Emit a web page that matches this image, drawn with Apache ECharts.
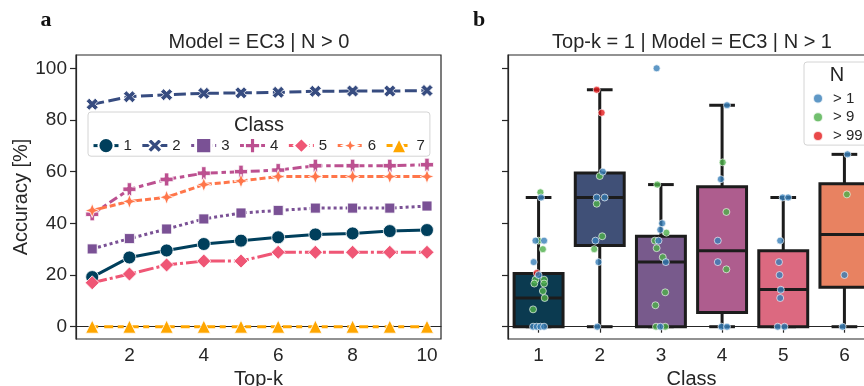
<!DOCTYPE html>
<html>
<head>
<meta charset="utf-8">
<script src="https://cdn.jsdelivr.net/npm/echarts@6/dist/echarts.min.js"></script>
<style>
  html, body { margin: 0; padding: 0; background: #fff; }
  #chart { width: 864px; height: 386px; }
</style>
</head>
<body>
<div id="chart"></div>
<script>
// panel a: accuracy per Top-k, one line per class
const topK = [1, 2, 3, 4, 5, 6, 7, 8, 9, 10]
const classNames = ['1', '2', '3', '4', '5', '6', '7']
const acc1 = [19.2, 26.8, 29.5, 32.0, 33.3, 34.6, 35.7, 36.1, 37.0, 37.4]
const acc2 = [86.1, 89.0, 89.8, 90.3, 90.5, 90.7, 91.1, 91.2, 91.2, 91.4]
const acc3 = [30.1, 34.1, 37.8, 41.7, 44.0, 45.0, 45.9, 45.9, 45.9, 46.7]
const acc4 = [43.5, 53.2, 57.0, 59.4, 60.0, 60.6, 62.3, 62.3, 62.3, 62.7]
const acc5 = [17.0, 20.4, 23.9, 25.4, 25.4, 28.8, 28.8, 28.8, 28.8, 28.8]
const acc6 = [45.0, 48.5, 50.1, 55.0, 56.4, 58.1, 58.1, 58.1, 58.1, 58.1]
const acc7 = [0, 0, 0, 0, 0, 0, 0, 0, 0, 0]
const yTicks = [0, 20, 40, 60, 80, 100]
const xTicks = [2, 4, 6, 8, 10]

// panel b: box stats per class [low, q1, median, q3, high]
const boxClasses = ['1', '2', '3', '4', '5', '6']
const boxLow = [0, 0, 0, 0, 0, 0]
const boxQ1 = [0, 31.4, 0, 5.5, 0, 15.3]
const boxMed = [11.1, 50, 25, 29.4, 14.4, 35.7]
const boxQ3 = [20.6, 59.5, 35, 54.2, 29.4, 55.3]
const boxHigh = [50, 91.7, 55, 85.7, 50, 66.7]

// strip points: [class, jitter, accuracy]
const ptsN1 = [
  [1, 0.04, 50], [1, -0.05, 33.3], [1, 0.09, 33.3], [1, -0.08, 25], [1, 0.0, 20],
  [1, -0.09, 0], [1, -0.03, 0], [1, 0.03, 0], [1, 0.09, 0],
  [2, 0.05, 60], [2, -0.05, 50], [2, 0.08, 50], [2, -0.07, 33.3], [2, -0.02, 25], [2, -0.04, 0],
  [3, -0.07, 100], [3, 0.02, 40], [3, -0.01, 37.5], [3, -0.04, 33.3], [3, 0.08, 25], [3, -0.01, 0],
  [4, 0.08, 85.7], [4, -0.02, 57.1], [4, -0.07, 33.3], [4, -0.07, 25], [4, -0.01, 0], [4, 0.08, 0],
  [5, -0.01, 50], [5, 0.08, 50], [5, -0.05, 33.3], [5, -0.07, 25], [5, -0.06, 20],
  [5, -0.04, 14.3], [5, -0.05, 11.1], [5, -0.09, 0], [5, 0.02, 0],
  [6, 0.05, 66.7], [6, 0.0, 20], [6, -0.03, 0]
]
const ptsN9 = [
  [1, 0.03, 52], [1, 0.0, 33.3], [1, 0.07, 30], [1, -0.05, 18.2], [1, 0.09, 18.2],
  [1, -0.07, 16.7], [1, 0.09, 16.7], [1, 0.07, 13.8], [1, 0.10, 11.1], [1, -0.09, 6.7],
  [2, 0.0, 58.3], [2, -0.05, 47.6], [2, 0.04, 35], [2, -0.09, 30],
  [3, -0.06, 55], [3, 0.09, 36.4], [3, -0.10, 33.3], [3, -0.07, 30.4], [3, 0.03, 26.9],
  [3, 0.07, 13.3], [3, -0.09, 8.3], [3, -0.08, 0], [3, 0.07, 0],
  [4, 0.01, 63.6], [4, 0.07, 44.4], [4, 0.07, 22.2],
  [6, 0.04, 51.2]
]
const ptsN99 = [
  [1, -0.03, 20.8], [2, -0.05, 91.7], [2, 0.03, 82.8]
]

const FONT = 'Liberation Sans'
const INK = '#262626'
const EDGE = '#1c1c1c'
const lineColors = ['#003f5c', '#374c80', '#7a5195', '#bc5090', '#ef5675', '#ff764a', '#ffa600']
const boxColors = ['#0b3a50', '#405077', '#785a8c', '#ae5d8e', '#dc6980', '#e88261']

const symX = 'path://M2.5,0 L5,2.5 L7.5,0 L10,2.5 L7.5,5 L10,7.5 L7.5,10 L5,7.5 L2.5,10 L0,7.5 L2.5,5 L0,2.5 Z'
const symPlus = 'path://M3.3,0 H6.7 V3.3 H10 V6.7 H6.7 V10 H3.3 V6.7 H0 V3.3 H3.3 Z'
const symStar = 'path://M5,0 L6.4,3.6 L10,5 L6.4,6.4 L5,10 L3.6,6.4 L0,5 L3.6,3.6 Z'

const lineDefs = [
  { data: acc1, symbol: 'circle', size: 13, dash: 'solid' },
  { data: acc2, symbol: symX, size: 12, dash: [12, 4.5] },
  { data: acc3, symbol: 'rect', size: 10, dash: [3, 3] },
  { data: acc4, symbol: symPlus, size: 13, dash: [9, 3.75, 4.5, 3.75] },
  { data: acc5, symbol: 'diamond', size: 14, dash: [15, 3, 3, 3] },
  { data: acc6, symbol: symStar, size: 14, dash: [15, 3, 6, 3, 6, 3] },
  { data: acc7, symbol: 'triangle', size: 13, dash: [6, 6, 9, 4.5] }
]

const lineSeries = lineDefs.map((d, i) => ({
  name: classNames[i],
  type: 'line',
  xAxisIndex: 0,
  yAxisIndex: 0,
  data: topK.map((k, j) => [k, d.data[j]]),
  symbol: d.symbol,
  symbolSize: d.size,
  showSymbol: true,
  lineStyle: { color: lineColors[i], width: 3, type: d.dash },
  itemStyle: { color: lineColors[i], borderColor: '#fff', borderWidth: 0.8 },
  z: 2 + i * 0.1
}))

function renderBox(params, api) {
  const i = api.value(0)
  const band = api.size([1, 0])[0]
  const half = band * 0.4
  const capHalf = band * 0.21
  const low = api.coord([i, api.value(1)])
  const q1 = api.coord([i, api.value(2)])
  const med = api.coord([i, api.value(3)])
  const q3 = api.coord([i, api.value(4)])
  const high = api.coord([i, api.value(5)])
  const x = low[0]
  const st = { stroke: EDGE, lineWidth: 3 }
  return {
    type: 'group',
    children: [
      { type: 'line', shape: { x1: x, y1: q1[1], x2: x, y2: low[1] }, style: st },
      { type: 'line', shape: { x1: x, y1: q3[1], x2: x, y2: high[1] }, style: st },
      { type: 'line', shape: { x1: x - capHalf, y1: low[1], x2: x + capHalf, y2: low[1] }, style: st },
      { type: 'line', shape: { x1: x - capHalf, y1: high[1], x2: x + capHalf, y2: high[1] }, style: st },
      {
        type: 'rect',
        shape: { x: x - half, y: q3[1], width: half * 2, height: q1[1] - q3[1] },
        style: { fill: boxColors[i], stroke: EDGE, lineWidth: 3 }
      },
      { type: 'line', shape: { x1: x - half, y1: med[1], x2: x + half, y2: med[1] }, style: st }
    ]
  }
}

function strip(name, pts, color) {
  return {
    name: name,
    type: 'scatter',
    xAxisIndex: 2,
    yAxisIndex: 1,
    data: pts.map(p => [p[0] + p[1], p[2]]),
    symbol: 'circle',
    symbolSize: 7,
    itemStyle: { color: color, borderColor: '#fff', borderWidth: 0.8 },
    z: 5
  }
}

const tickLabel = { color: INK, fontSize: 19, fontFamily: FONT }
const axisLine = { show: true, lineStyle: { color: INK, width: 1.2 } }
const axisTick = { show: true, length: 6, lineStyle: { color: INK, width: 1.2 } }

const chart = echarts.init(document.getElementById('chart'), null, { renderer: 'canvas' })
chart.setOption({
  animation: false,
  backgroundColor: '#fff',
  textStyle: { fontFamily: FONT },
  grid: [
    { left: 76, top: 55, width: 365, height: 284, outerBoundsMode: 'none', containLabel: false, show: true, borderColor: INK, borderWidth: 1.2 },
    { left: 508, top: 55, width: 367, height: 284, outerBoundsMode: 'none', containLabel: false, show: true, borderColor: INK, borderWidth: 1.2 }
  ],
  xAxis: [
    {
      gridIndex: 0, type: 'value', min: 0.564, max: 10.377,
      axisLine: axisLine,
      axisTick: Object.assign({ customValues: xTicks }, axisTick),
      axisLabel: Object.assign({ customValues: xTicks, margin: 7 }, tickLabel),
      splitLine: { show: false },
      name: 'Top-k', nameLocation: 'middle', nameGap: 30,
      nameTextStyle: { color: INK, fontSize: 20, fontFamily: FONT }
    },
    {
      gridIndex: 1, type: 'category', data: boxClasses, boundaryGap: true,
      axisLine: axisLine,
      axisTick: Object.assign({ alignWithLabel: true }, axisTick),
      axisLabel: Object.assign({ margin: 7 }, tickLabel),
      splitLine: { show: false },
      name: 'Class', nameLocation: 'middle', nameGap: 30,
      nameTextStyle: { color: INK, fontSize: 20, fontFamily: FONT }
    },
    {
      gridIndex: 1, type: 'value', min: 0.5, max: 6.5, show: false
    }
  ],
  yAxis: [
    {
      gridIndex: 0, type: 'value', min: -4.76, max: 105.15,
      axisLine: axisLine,
      axisTick: Object.assign({ customValues: yTicks }, axisTick),
      axisLabel: Object.assign({ customValues: yTicks, margin: 9 }, tickLabel),
      splitLine: { show: false },
      name: 'Accuracy [%]', nameLocation: 'middle', nameGap: 45,
      nameTextStyle: { color: INK, fontSize: 20, fontFamily: FONT }
    },
    {
      gridIndex: 1, type: 'value', min: -4.76, max: 105.15,
      axisLine: axisLine,
      axisTick: Object.assign({ customValues: yTicks }, axisTick),
      axisLabel: { show: false },
      splitLine: { show: false }
    }
  ],
  legend: [
    {
      data: classNames,
      selectedMode: false,
      orient: 'horizontal',
      left: 88, top: 112,
      itemWidth: 25, itemHeight: 19, itemGap: 9,
      padding: [25, 5, 2, 4],
      lineStyle: { width: 3 },
      borderColor: '#d4d4d4', borderWidth: 1, borderRadius: 3,
      backgroundColor: 'rgba(255,255,255,0.8)',
      textStyle: { color: INK, fontSize: 15, fontFamily: FONT }
    },
    {
      data: ['> 1', '> 9', '> 99'],
      selectedMode: false,
      orient: 'vertical',
      left: 804, top: 62,
      itemWidth: 20, itemHeight: 10, itemGap: 3.8,
      padding: [29, 20, 1.5, 8],
      borderColor: '#d4d4d4', borderWidth: 1, borderRadius: 3,
      backgroundColor: 'rgba(255,255,255,0.8)',
      textStyle: { color: INK, fontSize: 15, fontFamily: FONT }
    }
  ],
  graphic: [
    { type: 'text', x: 259, y: 42, style: { text: 'Model = EC3 | N > 0', fill: INK, font: '20px "Liberation Sans"', align: 'center', verticalAlign: 'middle' } },
    { type: 'text', x: 692, y: 42, style: { text: 'Top-k = 1 | Model = EC3 | N > 1', fill: INK, font: '20px "Liberation Sans"', align: 'center', verticalAlign: 'middle' } },
    { type: 'text', x: 46, y: 20, style: { text: 'a', fill: '#111', font: 'bold 22px "Liberation Serif"', align: 'center', verticalAlign: 'middle' } },
    { type: 'text', x: 479, y: 20, style: { text: 'b', fill: '#111', font: 'bold 22px "Liberation Serif"', align: 'center', verticalAlign: 'middle' } },
    { type: 'text', x: 259, y: 125, z: 100, style: { text: 'Class', fill: INK, font: '20px "Liberation Sans"', align: 'center', verticalAlign: 'middle' } },
    { type: 'text', x: 837, y: 75, z: 100, style: { text: 'N', fill: INK, font: '20px "Liberation Sans"', align: 'center', verticalAlign: 'middle' } }
  ],
  series: lineSeries.concat([
    {
      type: 'custom',
      xAxisIndex: 1,
      yAxisIndex: 1,
      renderItem: renderBox,
      encode: { x: 0, y: [1, 2, 3, 4, 5] },
      data: boxClasses.map((c, i) => [i, boxLow[i], boxQ1[i], boxMed[i], boxQ3[i], boxHigh[i]]),
      z: 2
    },
    strip('> 99', ptsN99, '#e41a1c'),
    strip('> 9', ptsN9, '#4daf4a'),
    strip('> 1', ptsN1, '#377eb8')
  ])
})
</script>
</body>
</html>
